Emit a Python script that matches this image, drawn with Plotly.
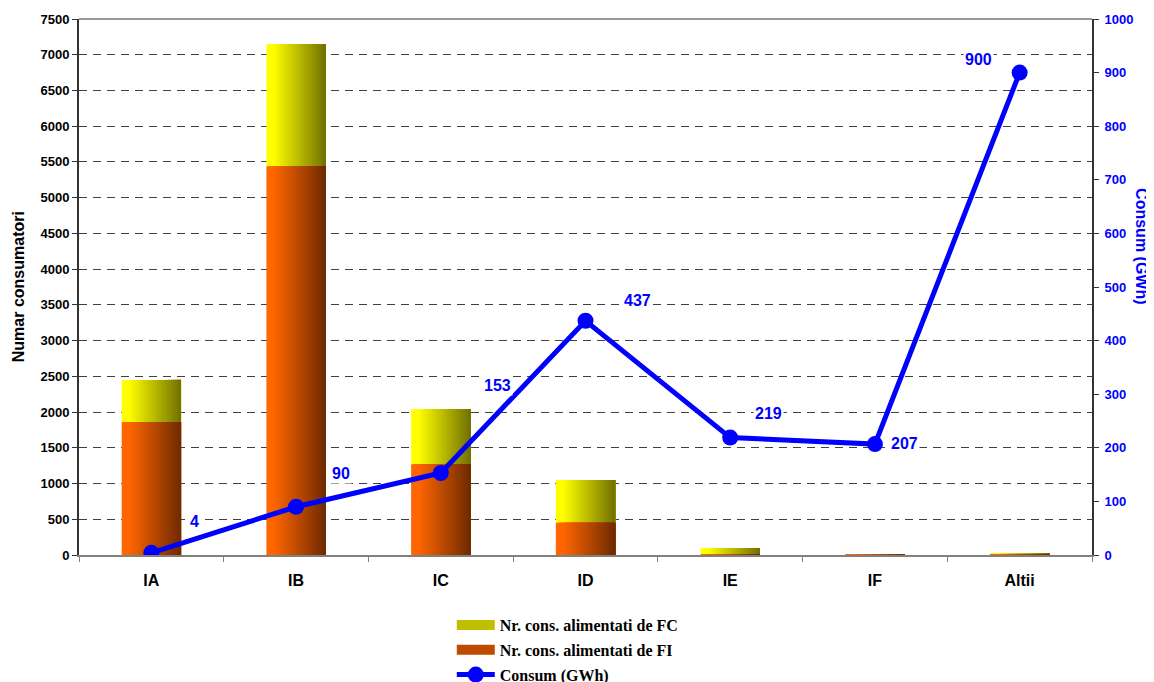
import plotly.graph_objects as go

categories = ["IA", "IB", "IC", "ID", "IE", "IF", "Altii"]
fi_values = [1860, 5440, 1270, 450, 10, 1, 1]          # Nr. cons. alimentati de FI
fc_values = [590, 1710, 770, 595, 85, 12, 24]          # Nr. cons. alimentati de FC
consum_gwh = [4, 90, 153, 437, 219, 207, 900]          # Consum (GWh)
consum_labels = ["4", "90", "153", "437", "219", "207", "900"]

# label offsets (pixels) for the line data labels
label_shift_x = [43, 45, 57, 52, 38, 30, -41]
label_shift_y = [31, 33, 87, 20, 24, 1, 13]

FONT = "Liberation Sans, Arial, sans-serif"
SERIF = "Liberation Serif, Times New Roman, serif"
BLUE = "#0000FF"

BAR_W = 0.41
N_STRIPS = 30


def lerp(c1, c2, t):
    return "rgb(%d,%d,%d)" % tuple(round(a + (b - a) * t) for a, b in zip(c1, c2))


def grad_t(i):
    t = (i + 0.5) / N_STRIPS
    return max(0.0, (t - 0.12) / 0.88)


fig = go.Figure()

series = [
    ("Nr. cons. alimentati de FC", fc_values, fi_values, (255, 255, 0), (112, 112, 0), 1),
    ("Nr. cons. alimentati de FI", fi_values, None, (255, 102, 0), (110, 42, 0), 2),
]
for name, vals, base, c_left, c_right, rank in series:
    sw = BAR_W / N_STRIPS
    for i in range(N_STRIPS):
        # each strip spans from its own left edge to the bar's right edge;
        # later strips are drawn over earlier ones -> seamless gradient
        fig.add_trace(go.Bar(
            x=categories, y=vals, base=base,
            width=BAR_W - i * sw,
            offset=-BAR_W / 2 + i * sw,
            marker=dict(color=lerp(c_left, c_right, grad_t(i)), line=dict(width=0)),
            name=name, showlegend=False, hoverinfo="skip",
        ))
    # legend entry (wide swatch)
    fig.add_trace(go.Scatter(
        x=[None], y=[None], mode="lines", name=name, legendgroup=name,
        legendrank=rank, line=dict(color=lerp(c_left, c_right, 0.45), width=12),
        showlegend=True, hoverinfo="skip",
    ))

fig.add_trace(go.Scatter(
    x=categories, y=consum_gwh, yaxis="y2", mode="lines+markers",
    name="Consum (GWh)", legendrank=3, legendgroup="consum",
    line=dict(color=BLUE, width=5),
    marker=dict(color=BLUE, size=16),
))

annotations = []
for cat, v, lab, sx, sy in zip(categories, consum_gwh, consum_labels, label_shift_x, label_shift_y):
    annotations.append(dict(
        x=cat, y=v, xref="x", yref="y2", text=lab, showarrow=False,
        xshift=sx, yshift=sy, bgcolor="white", borderpad=1,
        font=dict(family=FONT, size=16, color=BLUE, weight="bold"),
    ))

annotations.append(dict(
    text="Numar consumatori", xref="paper", yref="paper", x=-0.060, y=0.5,
    xanchor="center", yanchor="middle",
    textangle=-90, showarrow=False,
    font=dict(family=FONT, size=16, color="black", weight="bold"),
))
annotations.append(dict(
    text="Consum (GWh)", xref="paper", yref="paper", x=1.0495, y=0.576,
    xanchor="center", yanchor="middle",
    textangle=90, showarrow=False,
    font=dict(family=FONT, size=16, color=BLUE, weight="bold"),
))

fig.update_layout(
    width=1170, height=700,
    margin=dict(l=71, r=86, t=11, b=153, autoexpand=False),
    paper_bgcolor="white", plot_bgcolor="white",
    barmode="overlay",
    showlegend=True,
    legend=dict(
        x=0.368, y=-0.099, xanchor="left", yanchor="top",
        orientation="v", traceorder="grouped", tracegroupgap=1,
        font=dict(family=SERIF, size=16, color="black", weight="bold"),
        itemwidth=38, bgcolor="rgba(0,0,0,0)",
    ),
    xaxis=dict(
        type="category", showgrid=False,
        showline=True, linecolor="#808080", linewidth=2, mirror=False,
        ticks="outside", tickson="boundaries", ticklen=5, tickcolor="#808080",
        ticklabelstandoff=10,
        tickfont=dict(family=FONT, size=16, color="black", weight="bold"),
        range=[-0.5, 6.5],
    ),
    yaxis=dict(
        range=[0, 7500], dtick=500,
        showgrid=True, gridcolor="#404040", gridwidth=1, griddash="8px,6px",
        showline=True, linecolor="#333333", linewidth=2,
        ticks="outside", ticklen=5, tickcolor="#333333",
        tickfont=dict(family=FONT, size=13, color="black", weight="bold"),
        zeroline=False,
    ),
    yaxis2=dict(
        range=[0, 1000], dtick=100, overlaying="y", side="right",
        showgrid=False, showline=True, linecolor="#333333", linewidth=2,
        ticks="outside", ticklen=5, tickcolor="#333333",
        ticklabelstandoff=3,
        tickfont=dict(family=FONT, size=13, color=BLUE, weight="bold"),
        zeroline=False,
    ),
    annotations=annotations,
    shapes=[dict(type="line", xref="paper", yref="paper", x0=0, x1=1, y0=1, y1=1,
                 line=dict(color="#333333", width=1))],
)

fig.write_html("out.html")
